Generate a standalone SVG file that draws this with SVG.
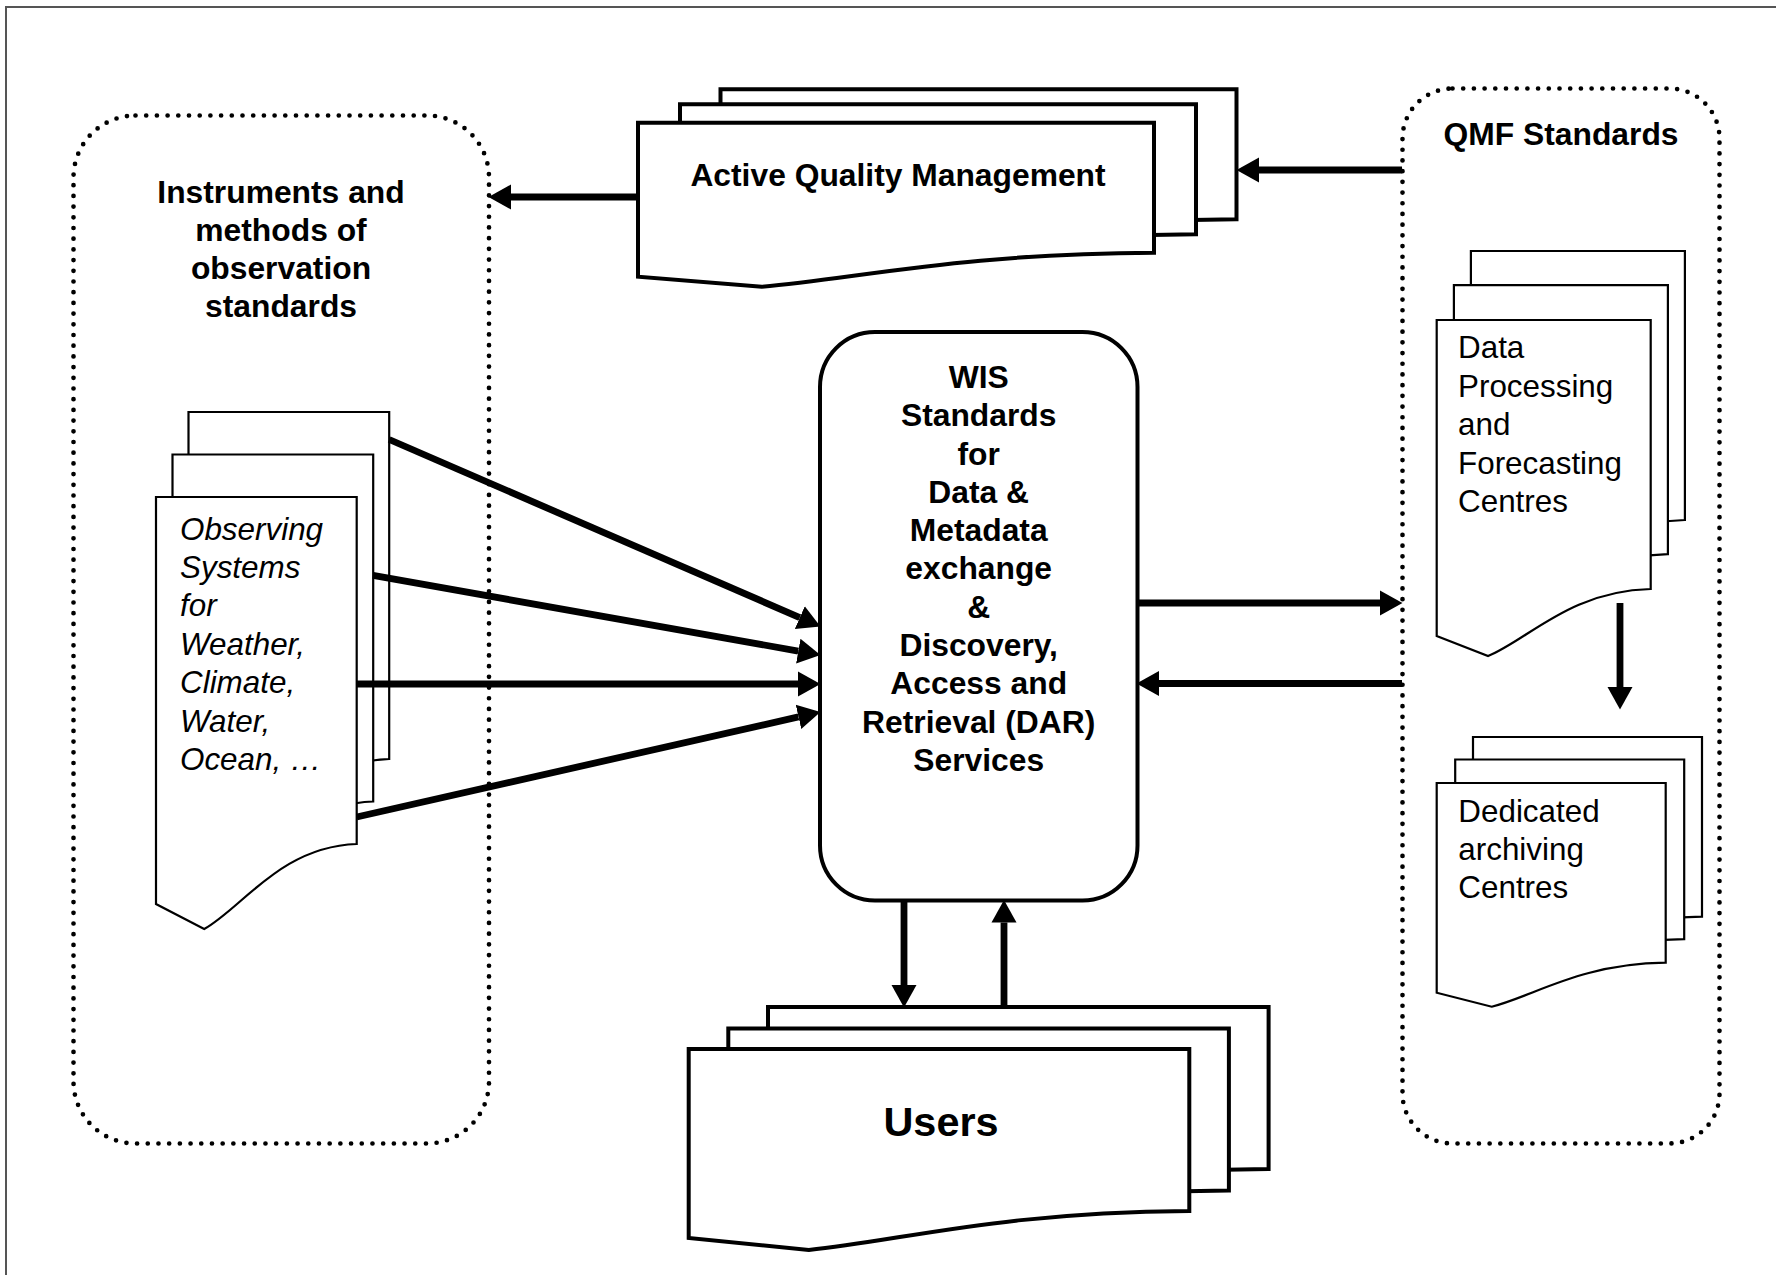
<svg xmlns="http://www.w3.org/2000/svg" width="1776" height="1275" viewBox="0 0 1776 1275">
<style>
.frame{fill:none;stroke:#555;stroke-width:2}
.dotted{fill:none;stroke:#000;stroke-width:4.7;stroke-dasharray:0 10.7;stroke-linecap:round}
.thick{fill:#fff;stroke:#000;stroke-width:4}
.thin{fill:#fff;stroke:#000;stroke-width:2.2}
.conn{fill:none;stroke:#000;stroke-width:6.8}
.title{font-family:"Liberation Sans",Arial,sans-serif;font-weight:bold;font-size:31.8px;fill:#000;text-anchor:middle}
.users{font-family:"Liberation Sans",Arial,sans-serif;font-weight:bold;font-size:41.4px;fill:#000;text-anchor:middle}
.body{font-family:"Liberation Sans",Arial,sans-serif;font-size:31.4px;fill:#000}
.ital{font-style:italic}
</style>
<defs>
<marker id="arrow" markerUnits="userSpaceOnUse" markerWidth="26" markerHeight="28" viewBox="0 -14 26 28" refX="0" refY="0" orient="auto">
<path d="M0,-12.5 L22.5,0 L0,12.5 Z" fill="#000"/>
</marker>
</defs>
<rect width="1776" height="1275" fill="#fff"/>
<path class="frame" d="M6,1285 V7 H1785"/>

<g id="instruments-box">
<rect class="dotted" x="73.5" y="115.5" width="415.5" height="1028" rx="62" ry="62"/>
<text class="title" x="281"><tspan x="281" y="202.7">Instruments and</tspan><tspan x="281" y="240.7">methods of</tspan><tspan x="281" y="278.7">observation</tspan><tspan x="281" y="316.7">standards</tspan></text>
</g>

<g id="qmf-box">
<rect class="dotted" x="1402.5" y="88.5" width="317" height="1055" rx="50" ry="50"/>
<text class="title" x="1561" y="145">QMF Standards</text>
</g>

<g id="active-quality-management">
<path class="thick" transform="translate(82.5,-33.4)" d="M638,122.7 H1154 V252.7 C957.9,253.7 859.8,278.2 761.8,286.7 L638,276.7 Z"/>
<path class="thick" transform="translate(42,-18.4)" d="M638,122.7 H1154 V252.7 C957.9,253.7 859.8,278.2 761.8,286.7 L638,276.7 Z"/>
<path class="thick" d="M638,122.7 H1154 V252.7 C957.9,253.7 859.8,278.2 761.8,286.7 L638,276.7 Z"/>
<text class="title" x="898" y="186">Active Quality Management</text>
</g>

<g id="observing-systems">
<path class="thin" transform="translate(32.5,-85)" d="M156,497 H356.7 V844 C280.5,846.6 242.3,907.8 204.2,929 L156,904 Z"/>
<path class="thin" transform="translate(16.5,-42.5)" d="M156,497 H356.7 V844 C280.5,846.6 242.3,907.8 204.2,929 L156,904 Z"/>
<path class="thin" d="M156,497 H356.7 V844 C280.5,846.6 242.3,907.8 204.2,929 L156,904 Z"/>
<text class="body ital"><tspan x="180" y="539.5">Observing</tspan><tspan x="180" y="577.9">Systems</tspan><tspan x="180" y="616.3">for</tspan><tspan x="180" y="654.7">Weather,</tspan><tspan x="180" y="693.1">Climate,</tspan><tspan x="180" y="731.5">Water,</tspan><tspan x="180" y="769.9">Ocean, …</tspan></text>
</g>

<g id="wis-standards">
<rect class="thick" x="820" y="332" width="317.5" height="568.5" rx="55" ry="55"/>
<text class="title"><tspan x="978.7" y="388">WIS</tspan><tspan x="978.7" y="426.3">Standards</tspan><tspan x="978.7" y="464.6">for</tspan><tspan x="978.7" y="502.8">Data &amp;</tspan><tspan x="978.7" y="541.1">Metadata</tspan><tspan x="978.7" y="579.4">exchange</tspan><tspan x="978.7" y="617.7">&amp;</tspan><tspan x="978.7" y="656">Discovery,</tspan><tspan x="978.7" y="694.2">Access and</tspan><tspan x="978.7" y="732.5">Retrieval (DAR)</tspan><tspan x="978.7" y="770.8">Services</tspan></text>
</g>

<g id="data-processing-centres">
<path class="thin" transform="translate(34.2,-69)" d="M1436.7,320 H1650.7 V589 C1569.4,591 1528.8,639.3 1488.1,656 L1436.7,636 Z"/>
<path class="thin" transform="translate(17.2,-34.8)" d="M1436.7,320 H1650.7 V589 C1569.4,591 1528.8,639.3 1488.1,656 L1436.7,636 Z"/>
<path class="thin" d="M1436.7,320 H1650.7 V589 C1569.4,591 1528.8,639.3 1488.1,656 L1436.7,636 Z"/>
<text class="body"><tspan x="1458" y="358">Data</tspan><tspan x="1458" y="396.5">Processing</tspan><tspan x="1458" y="435">and</tspan><tspan x="1458" y="473.5">Forecasting</tspan><tspan x="1458" y="512">Centres</tspan></text>
</g>

<g id="dedicated-archiving-centres">
<path class="thin" transform="translate(36.3,-46)" d="M1436.7,783 H1665.7 V962.7 C1578.7,964 1535.2,995.7 1491.7,1006.7 L1436.7,992.7 Z"/>
<path class="thin" transform="translate(18.5,-23.5)" d="M1436.7,783 H1665.7 V962.7 C1578.7,964 1535.2,995.7 1491.7,1006.7 L1436.7,992.7 Z"/>
<path class="thin" d="M1436.7,783 H1665.7 V962.7 C1578.7,964 1535.2,995.7 1491.7,1006.7 L1436.7,992.7 Z"/>
<text class="body"><tspan x="1458.3" y="821.7">Dedicated</tspan><tspan x="1458.3" y="860">archiving</tspan><tspan x="1458.3" y="898.3">Centres</tspan></text>
</g>

<g id="users">
<path class="thick" transform="translate(79.3,-42)" d="M688.7,1049 H1189.3 V1211 C999.1,1212.2 903.9,1240.3 808.8,1250 L688.7,1238 Z"/>
<path class="thick" transform="translate(39.6,-20.5)" d="M688.7,1049 H1189.3 V1211 C999.1,1212.2 903.9,1240.3 808.8,1250 L688.7,1238 Z"/>
<path class="thick" d="M688.7,1049 H1189.3 V1211 C999.1,1212.2 903.9,1240.3 808.8,1250 L688.7,1238 Z"/>
<text class="users" x="941" y="1136">Users</text>
</g>

<g id="connectors">
<line class="conn" x1="638" y1="197" x2="511" y2="197" marker-end="url(#arrow)"/>
<line class="conn" x1="1402" y1="170" x2="1259" y2="170" marker-end="url(#arrow)"/>
<line class="conn" x1="389.2" y1="439.5" x2="799.8" y2="617.6" marker-end="url(#arrow)"/>
<line class="conn" x1="373" y1="575.4" x2="798.3" y2="651.1" marker-end="url(#arrow)"/>
<line class="conn" x1="356.7" y1="684" x2="798" y2="684" marker-end="url(#arrow)"/>
<line class="conn" x1="356.7" y1="817" x2="798.5" y2="716.9" marker-end="url(#arrow)"/>
<line class="conn" x1="1137" y1="603" x2="1380" y2="603" marker-end="url(#arrow)"/>
<line class="conn" x1="1402" y1="683.5" x2="1159" y2="683.5" marker-end="url(#arrow)"/>
<line class="conn" x1="904" y1="900.5" x2="904" y2="985" marker-end="url(#arrow)"/>
<line class="conn" x1="1004" y1="1007" x2="1004" y2="922.5" marker-end="url(#arrow)"/>
<line class="conn" x1="1620" y1="603" x2="1620" y2="687" marker-end="url(#arrow)"/>
</g>
</svg>
